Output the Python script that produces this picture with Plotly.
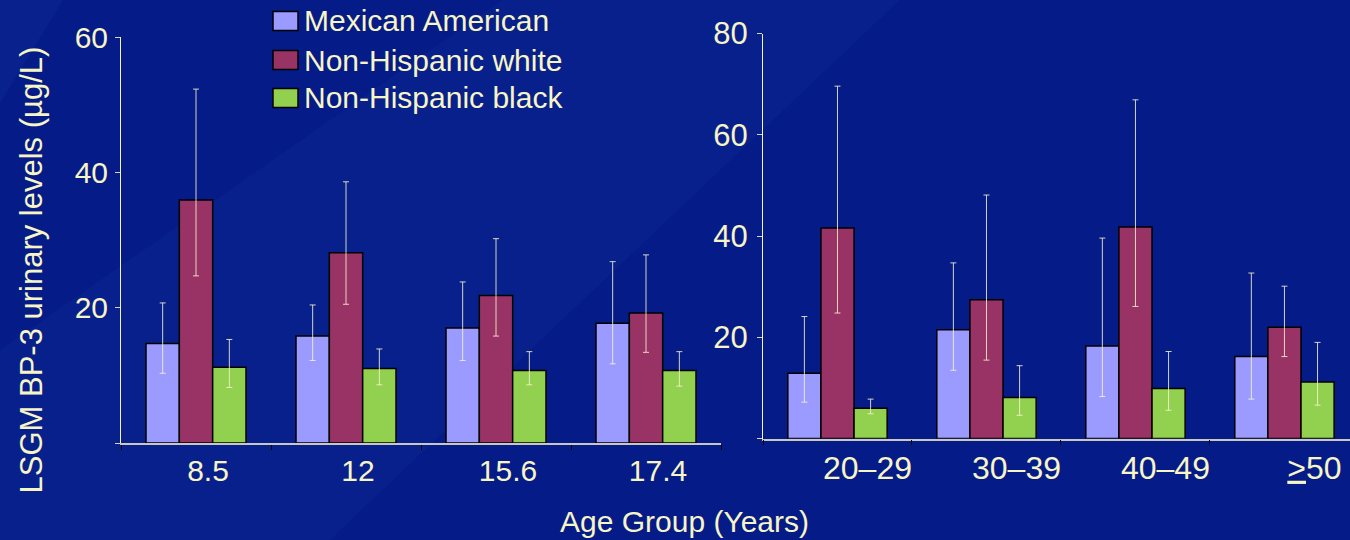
import plotly.graph_objects as go

# ---- data -------------------------------------------------------------
series_names = ["Mexican American", "Non-Hispanic white", "Non-Hispanic black"]
series_colors = ["#9b9bff", "#993366", "#92d050"]

teen_groups = ["8.5", "12", "15.6", "17.4"]
teen_mex = [14.7, 15.8, 17.0, 17.7]
teen_mex_hi = [20.7, 20.4, 23.8, 26.8]
teen_mex_lo = [10.3, 12.2, 12.2, 11.7]
teen_white = [35.9, 28.1, 21.8, 19.2]
teen_white_hi = [52.3, 38.6, 30.2, 27.8]
teen_white_lo = [24.7, 20.5, 15.8, 13.4]
teen_black = [11.2, 11.0, 10.7, 10.7]
teen_black_hi = [15.3, 13.9, 13.5, 13.5]
teen_black_lo = [8.2, 8.6, 8.6, 8.4]

adult_groups = ["20–29", "30–39", "40–49", "≥50"]
adult_ticktext = ["20–29", "30–39", "40–49", "<u>&gt;</u>50"]
adult_mex = [12.9, 21.5, 18.3, 16.2]
adult_mex_hi = [24.1, 34.7, 39.6, 32.7]
adult_mex_lo = [7.2, 13.5, 8.3, 7.8]
adult_white = [41.6, 27.4, 41.8, 22.0]
adult_white_hi = [69.6, 48.1, 66.9, 30.1]
adult_white_lo = [24.8, 15.5, 26.1, 16.2]
adult_black = [6.0, 8.1, 9.9, 11.2]
adult_black_hi = [7.8, 14.4, 17.2, 19.0]
adult_black_lo = [4.9, 4.6, 5.6, 6.6]

teen_ticks = [0, 20, 40, 60]
teen_ticktext = ["", "20", "40", "60"]
adult_ticks = [0, 20, 40, 60, 80]
adult_ticktext_y = ["", "20", "40", "60", "80"]

# ---- styling ----------------------------------------------------------
W, H = 1350, 540
FONT = "Liberation Sans, Arial, sans-serif"
TEXT = "#f7f5c6"
ERR = "rgba(245,243,205,0.85)"
BG = "#051b87"


def px(x):
    return x / W


def py(y):
    return 1 - y / H


def bar(x, y, hi, lo, name, color, xa, ya):
    return go.Bar(
        x=x, y=y, name=name, xaxis=xa, yaxis=ya, showlegend=False,
        marker=dict(color=color, line=dict(color="#000000", width=1.5)),
        error_y=dict(type="data", symmetric=False,
                     array=[h - v for h, v in zip(hi, y)],
                     arrayminus=[v - l for v, l in zip(y, lo)],
                     color=ERR, thickness=1, width=3),
    )


fig = go.Figure()
teen_sets = [(teen_mex, teen_mex_hi, teen_mex_lo),
             (teen_white, teen_white_hi, teen_white_lo),
             (teen_black, teen_black_hi, teen_black_lo)]
adult_sets = [(adult_mex, adult_mex_hi, adult_mex_lo),
              (adult_white, adult_white_hi, adult_white_lo),
              (adult_black, adult_black_hi, adult_black_lo)]
for (v, hi, lo), name, col in zip(teen_sets, series_names, series_colors):
    fig.add_trace(bar(teen_groups, v, hi, lo, name, col, "x", "y"))
for (v, hi, lo), name, col in zip(adult_sets, series_names, series_colors):
    fig.add_trace(bar(adult_groups, v, hi, lo, name, col, "x2", "y2"))

xcommon = dict(type="category", showline=True, linecolor="#c8c8c0", linewidth=1.5,
               ticks="outside", tickson="boundaries", ticklen=5, tickcolor="#000000",
               showgrid=False, zeroline=False, fixedrange=True, automargin=False)
ycommon = dict(showline=True, linecolor=TEXT, linewidth=1, ticks="outside",
               ticklen=5, tickcolor="#d8d6b0", showgrid=False, zeroline=False,
               fixedrange=True, automargin=False)

fig.update_layout(
    template="none",
    width=W, height=H, autosize=False,
    margin=dict(l=0, r=0, t=0, b=0, autoexpand=False),
    paper_bgcolor=BG, plot_bgcolor="rgba(0,0,0,0)",
    showlegend=False,
    barmode="group", bargap=1 / 3, bargroupgap=0,
    font=dict(family=FONT, color=TEXT),
    xaxis=dict(**xcommon, domain=[px(121), px(721)], range=[-0.5, 3.5],
               anchor="y", tickfont=dict(size=30, color=TEXT),
               ticklabelshift=12, ticklabelstandoff=0),
    yaxis=dict(**ycommon, domain=[py(443), py(37)], range=[0, 60],
               anchor="x", tickvals=teen_ticks, ticktext=teen_ticktext,
               tickfont=dict(size=30, color=TEXT), ticklabelstandoff=1),
    xaxis2=dict(**xcommon, domain=[px(763), 1.0], range=[-0.5, 3.44],
                anchor="y2", tickvals=adult_groups, ticktext=adult_ticktext,
                tickfont=dict(size=32, color=TEXT),
                ticklabelshift=30, ticklabelstandoff=0),
    yaxis2=dict(**ycommon, domain=[py(438.6), py(33.5)], range=[0, 80],
                anchor="x2", tickvals=adult_ticks, ticktext=adult_ticktext_y,
                tickfont=dict(size=31, color=TEXT), ticklabelstandoff=3),
)

# soft diagonal sheen in the backdrop
fig.add_shape(type="path", xref="paper", yref="paper", layer="below",
              path=f"M0,{py(350)} L{px(502)},1 L{px(900)},1 L{px(330)},0 L0,0 Z",
              fillcolor="rgba(40,80,190,0.10)", line=dict(width=0))
fig.add_shape(type="path", xref="paper", yref="paper", layer="below",
              path=f"M0,1 L{px(63)},1 L0,{py(103)} Z",
              fillcolor="rgba(40,80,190,0.12)", line=dict(width=0))

# legend: swatches and labels
legend_rows = [21, 60, 98]
for name, col, yc in zip(series_names, series_colors, legend_rows):
    fig.add_shape(type="rect", xref="paper", yref="paper",
                  x0=px(273), x1=px(298), y0=py(yc + 9.5), y1=py(yc - 9.5),
                  fillcolor=col, line=dict(color="#000000", width=1.5))
    fig.add_annotation(x=px(302), y=py(yc), xref="paper", yref="paper",
                       text=name, showarrow=False, xanchor="left", yanchor="middle",
                       font=dict(size=30, color=TEXT, family=FONT))

# axis titles
fig.add_annotation(x=px(31), y=py(270.5), xref="paper", yref="paper",
                   text="LSGM BP-3 urinary levels (µg/L)", textangle=-90,
                   showarrow=False, xanchor="center", yanchor="middle",
                   font=dict(size=31, color=TEXT, family=FONT))
fig.add_annotation(x=px(684), y=py(521), xref="paper", yref="paper",
                   text="Age Group (Years)", showarrow=False,
                   xanchor="center", yanchor="middle",
                   font=dict(size=30, color=TEXT, family=FONT))

fig.write_html("out.html")
